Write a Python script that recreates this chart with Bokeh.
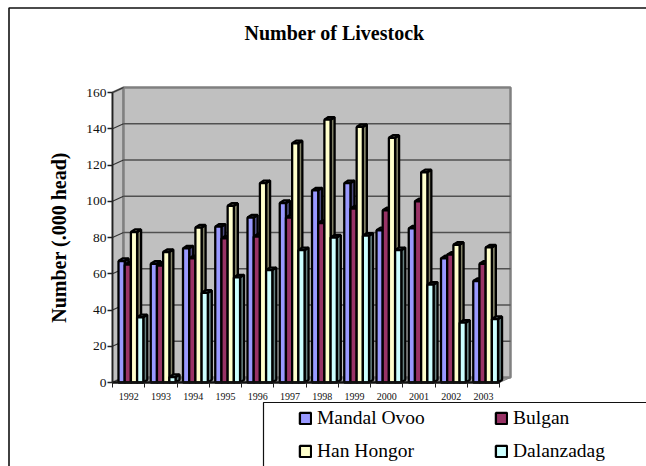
from bokeh.embed import file_html
from bokeh.resources import INLINE
from bokeh.plotting import figure
from bokeh.models import (BoxAnnotation, FixedTicker, Label, LinearAxis, Legend, LegendItem, Range1d)

years = ["1992", "1993", "1994", "1995", "1996", "1997", "1998", "1999", "2000", "2001", "2002", "2003"]
mandal_ovoo = [67, 65.5, 74, 86, 91, 99, 106, 110, 84, 85, 68.5, 56]
bulgan = [65, 64.5, 68.5, 79.5, 80.5, 91, 88, 96, 95, 100, 70.5, 65.5]
han_hongor = [83, 72, 85.5, 97.5, 110, 132, 145, 141, 135, 116, 76, 74.5]
dalanzadag = [36, 3, 49.5, 58, 62, 73, 80, 81, 73, 54, 33, 35]
y_ticks = [0, 20, 40, 60, 80, 100, 120, 140, 160]

series = [
    ("Mandal Ovoo", mandal_ovoo, "#9999FF", "#4D4D80"),
    ("Bulgan", bulgan, "#993366", "#4D1933"),
    ("Han Hongor", han_hongor, "#FFFFCC", "#808066"),
    ("Dalanzadag", dalanzadag, "#CCFFFF", "#668080"),
]

W, H = 646, 466
X0, Y0 = 112, 382          # page position of the axes' origin
PX_X = 32.25               # pixels per category
PX_Y = 1.8125              # pixels per value unit
n = len(years)
wall_dx = 11 / PX_X
wall_dy = 5 / PX_Y
bar_dx = 4 / PX_X
bar_dy = 2.6 / PX_Y
bar_w = 6.2 / PX_X
bar_start = 6 / PX_X
BAR_LW = 2.3

p = figure(width=W, height=H, output_backend="svg", toolbar_location=None,
           x_range=Range1d(-X0 / PX_X, (W - X0) / PX_X),
           y_range=Range1d((Y0 - H) / PX_Y, Y0 / PX_Y),
           x_axis_type=None, y_axis_type=None,
           min_border_left=0, min_border_right=0, min_border_top=0, min_border_bottom=0)
p.outline_line_color = None
p.xgrid.visible = False
p.ygrid.visible = False

top_v = y_ticks[-1]
wall = "#C0C0C0"
edge = "#808080"
p.patch([0, wall_dx, wall_dx, 0], [0, wall_dy, top_v + wall_dy, top_v],
        fill_color=wall, line_color=edge, line_width=2)
p.patch([0, n, n + wall_dx, wall_dx], [0, 0, wall_dy, wall_dy],
        fill_color="#A8A8A8", line_color=edge, line_width=1)
p.patch([wall_dx, n + wall_dx, n + wall_dx, wall_dx],
        [wall_dy, wall_dy, top_v + wall_dy, top_v + wall_dy],
        fill_color=wall, line_color=edge, line_width=2.5)
gy = [v + wall_dy for v in y_ticks[1:-1]]
p.segment([wall_dx] * len(gy), gy, [n + wall_dx] * len(gy), gy, line_color="#505050", line_width=1.3)
p.segment([0] * len(y_ticks), y_ticks, [wall_dx] * len(y_ticks),
          [v + wall_dy for v in y_ticks], line_color="#333333", line_width=1.2)

fronts = {}
for s, (name, vals, face, shade) in enumerate(series):
    lefts = [i + bar_start + s * bar_w for i in range(n)]
    rights = [l + bar_w for l in lefts]
    p.patches([[r, r + bar_dx, r + bar_dx, r] for r in rights],
              [[0, bar_dy, v + bar_dy, v] for v in vals],
              fill_color=shade, line_color="black", line_width=BAR_LW)
    p.patches([[l, r, r + bar_dx, l + bar_dx] for l, r in zip(lefts, rights)],
              [[v, v, v + bar_dy, v + bar_dy] for v in vals],
              fill_color=shade, line_color="black", line_width=BAR_LW)
    fronts[name] = p.quad(left=lefts, right=rights, bottom=0, top=vals,
                          fill_color=face, line_color="black", line_width=BAR_LW)

yaxis = LinearAxis(ticker=FixedTicker(ticks=y_ticks), bounds=(0, top_v), fixed_location=0,
                   major_label_text_font="Liberation Serif", major_label_text_font_size="13.5px",
                   major_label_text_color="#111111",
                   major_label_standoff=1, major_tick_in=0, major_tick_out=5, minor_tick_out=0, minor_tick_in=0,
                   axis_line_color="#222222", axis_line_width=1.6,
                   major_tick_line_color="#222222", major_tick_line_width=1.4)
p.add_layout(yaxis, "left")

centres = [i + 0.5 for i in range(n)]
xaxis = LinearAxis(ticker=FixedTicker(ticks=centres, minor_ticks=list(range(n + 1))),
                   bounds=(0, n), fixed_location=0, major_label_overrides=dict(zip(centres, years)),
                   major_label_text_font="Liberation Serif", major_label_text_font_size="10px",
                   major_label_text_color="#111111",
                   major_label_standoff=5, major_tick_in=0, major_tick_out=0,
                   minor_tick_in=0, minor_tick_out=5, minor_tick_line_color="#222222",
                   minor_tick_line_width=1, axis_line_color="#111111", axis_line_width=2.5)
p.add_layout(xaxis, "below")

p.add_layout(Label(x=334, y=H - 32, x_units="screen", y_units="screen", text="Number of Livestock",
                   text_align="center", text_baseline="middle", text_font="Liberation Serif",
                   text_font_style="bold", text_font_size="20px", text_color="black"))
p.add_layout(Label(x=58, y=H - 237, x_units="screen", y_units="screen", text="Number (.000 head)",
                   text_align="center", text_baseline="middle", angle=90, angle_units="deg",
                   text_font="Liberation Serif", text_font_style="bold", text_font_size="20px",
                   text_color="black"))

p.add_layout(BoxAnnotation(left=8.5, right=800, top=7.5, bottom=700,
                           left_units="canvas", right_units="canvas", top_units="canvas", bottom_units="canvas",
                           fill_color=None, fill_alpha=0, line_color="#111111", line_alpha=1, line_width=1.6))
p.add_layout(BoxAnnotation(left=263, right=800, top=402, bottom=700,
                           left_units="canvas", right_units="canvas", top_units="canvas", bottom_units="canvas",
                           fill_color=None, fill_alpha=0, line_color="#111111", line_alpha=1, line_width=1.2))

order = ["Mandal Ovoo", "Han Hongor", "Bulgan", "Dalanzadag"]
items = [LegendItem(label=name, renderers=[fronts[name]]) for name in order]
legend = Legend(items=items, ncols=2, location=(298, 4), padding=4, spacing=11, margin=0,
                label_standoff=5, label_width=166, label_height=20, glyph_width=14, glyph_height=14,
                label_text_font="Liberation Serif", label_text_font_size="19.5px",
                label_text_color="black", border_line_color=None, background_fill_alpha=0)
p.add_layout(legend, "center")

open("out.html", "w").write(file_html(p, INLINE))
